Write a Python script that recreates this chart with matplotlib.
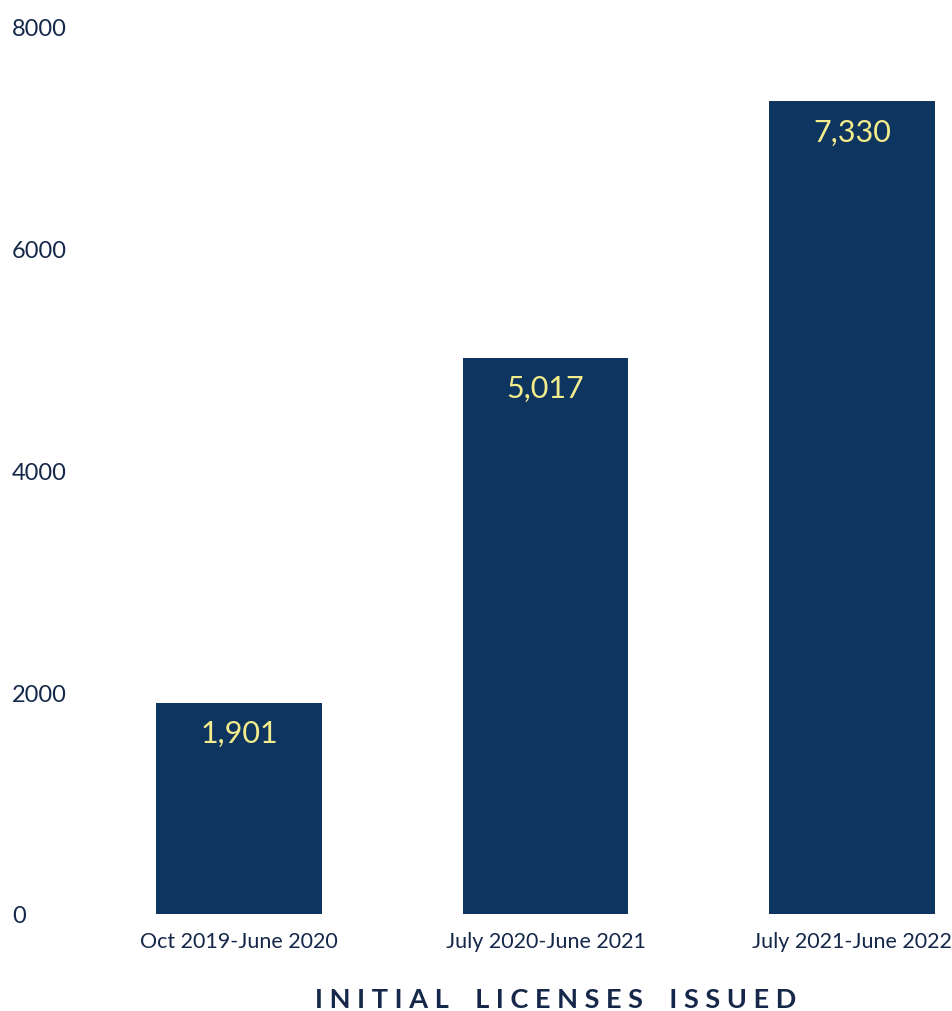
import matplotlib
matplotlib.use("Agg")
import matplotlib.pyplot as plt

categories = ["Oct 2019-June 2020", "July 2020-June 2021", "July 2021-June 2022"]
values = [1901, 5017, 7330]
value_labels = ["1,901", "5,017", "7,330"]
yticks = [0, 2000, 4000, 6000, 8000]
ytick_labels = ["0", "2000", "4000", "6000", "8000"]
title = "INITIAL LICENSES ISSUED"

bar_color = "#0e3560"
text_color = "#15284a"
label_color = "#f3ec8a"

plt.rcParams['font.family'] = ['Lato', 'DejaVu Sans']

fig = plt.figure(figsize=(9.53, 10.12), dpi=100)
ax = fig.add_axes([130/953, 1 - 915/1012, (953-130)/953, (915-28)/1012])

x = list(range(len(categories)))
bars = ax.bar(x, values, width=0.54, color=bar_color)
ax.set_xlim(-0.356, 2.33)
ax.set_ylim(0, 8000)

for xi, v, lab in zip(x, values, value_labels):
    ax.annotate(lab, (xi, v), xytext=(0, -30), textcoords="offset pixels",
                ha="center", va="center", color=label_color, fontsize=22)

ax.set_yticks(yticks)
ax.set_yticklabels(ytick_labels, fontsize=17, color=text_color, ha="left")
ax.tick_params(axis="y", length=0, pad=85)
ax.set_xticks(x)
ax.set_xticklabels(categories, fontsize=15.5, color=text_color)
ax.tick_params(axis="x", length=0, pad=12)
for s in ax.spines.values():
    s.set_visible(False)

spaced = "    ".join(" ".join(w) for w in title.split())
fig.text(556/953, 1 - 1000/1012, spaced, ha="center", va="center",
         fontsize=19.5, fontweight="bold", color=text_color)

fig.savefig("out.png", dpi=100, facecolor="white")
